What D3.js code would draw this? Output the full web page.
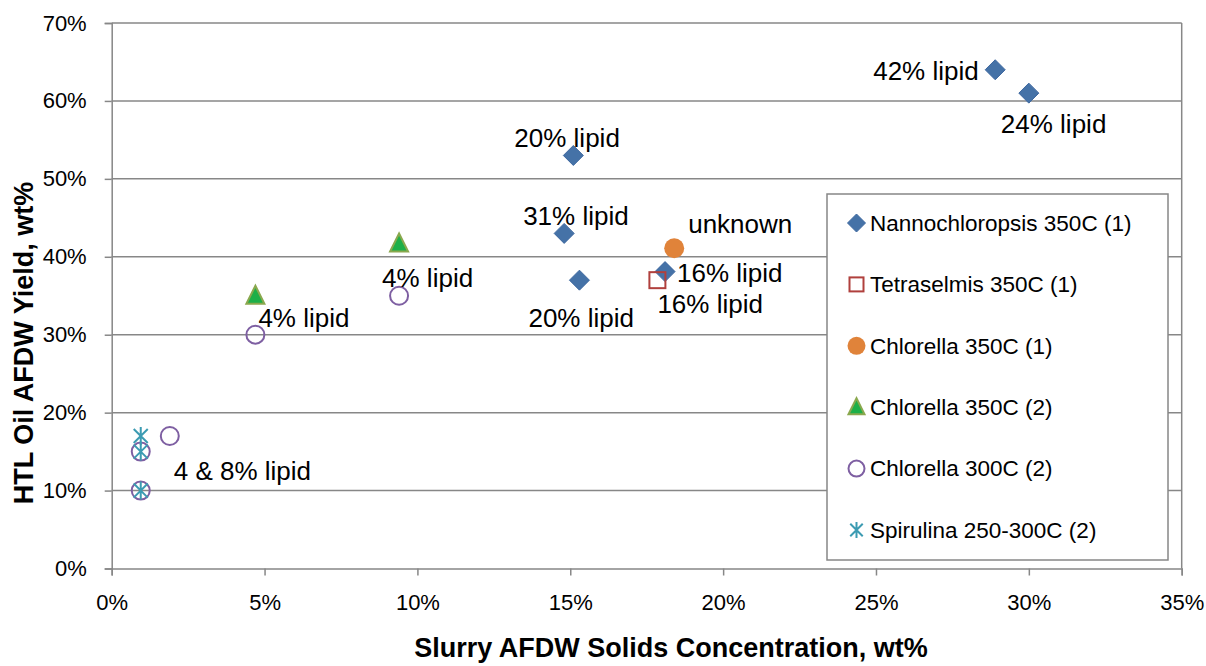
<!DOCTYPE html>
<html><head><meta charset="utf-8">
<script src="https://cdn.jsdelivr.net/npm/d3@7"></script>
<style>body{margin:0;background:#fff}svg{display:block}text{font-family:"Liberation Sans",Arial,sans-serif;fill:#000}</style>
</head><body><svg id="c" width="1206" height="666"></svg>
<script>
// ---- data ----
const seriesNames = ["Nannochloropsis 350C (1)","Tetraselmis 350C (1)","Chlorella 350C (1)","Chlorella 350C (2)","Chlorella 300C (2)","Spirulina 250-300C (2)"];
const nannoX = [14.8, 15.1, 15.3, 18.1, 28.9, 30.0];
const nannoY = [43, 53, 37, 38.1, 64, 61];
const tetraX = [17.85];
const tetraY = [37];
const chl350aX = [18.4];
const chl350aY = [41.1];
const chl350bX = [4.7, 9.4];
const chl350bY = [35, 41.7];
const chl300X = [4.7, 9.4, 1.9, 0.95, 0.95];
const chl300Y = [30, 35, 17, 15, 10];
const spiruX = [0.95, 0.95, 0.95];
const spiruY = [17, 15, 10];
const xTicks = [0,5,10,15,20,25,30,35];
const yTicks = [0,10,20,30,40,50,60,70];
const annotations = [
  {t:"20% lipid", x:15.1, y:53, dx:-59, dy:-18},
  {t:"31% lipid", x:14.8, y:43, dx:-41, dy:-18},
  {t:"20% lipid", x:15.3, y:37, dx:-51, dy:38},
  {t:"16% lipid", x:18.1, y:38.1, dx:12, dy:1},
  {t:"16% lipid", x:17.85, y:37, dx:0, dy:24},
  {t:"unknown", x:18.4, y:41.1, dx:14, dy:-24},
  {t:"42% lipid", x:28.9, y:64, dx:-122, dy:1},
  {t:"24% lipid", x:30.0, y:61, dx:-28, dy:31},
  {t:"4% lipid", x:4.7, y:35, dx:3, dy:22},
  {t:"4% lipid", x:9.4, y:41.7, dx:-17, dy:34},
  {t:"4 & 8% lipid", x:0.95, y:15, dx:33, dy:19}
];

const svg = d3.select("#c");
const L = 111.7, R = 1181.7, T = 23, B = 568.5;
const x = d3.scaleLinear().domain([0,35]).range([L,R]);
const y = d3.scaleLinear().domain([0,70]).range([B,T]);
const grid = "#878787";

// gridlines
svg.append("g").selectAll("line").data(yTicks.slice(1)).join("line")
  .attr("x1",L).attr("x2",R).attr("y1",d=>y(d)).attr("y2",d=>y(d))
  .attr("stroke",grid).attr("stroke-width",1.5);
// border right
svg.append("line").attr("x1",R).attr("x2",R).attr("y1",T).attr("y2",B).attr("stroke",grid).attr("stroke-width",1.5);

const pct = d=>d+"%";
const yAxis = svg.append("g").attr("transform",`translate(${L},0)`)
  .call(d3.axisLeft(y).tickValues(yTicks).tickFormat(pct).tickSize(7).tickPadding(18));
const xAxis = svg.append("g").attr("transform",`translate(0,${B})`)
  .call(d3.axisBottom(x).tickValues(xTicks).tickFormat(pct).tickSize(7).tickPadding(14));
[yAxis,xAxis].forEach(a=>{
  a.select(".domain").attr("stroke",grid).attr("stroke-width",1.5);
  a.selectAll(".tick line").attr("stroke",grid).attr("stroke-width",1.5);
  a.selectAll(".tick text").attr("font-size",22).attr("font-family","Liberation Sans, Arial, sans-serif").attr("fill","#000");
});
xAxis.selectAll(".tick text").attr("dy","0.95em");

// axis titles
svg.append("text").attr("x",671).attr("y",657).attr("text-anchor","middle")
  .attr("font-size",27).attr("font-weight","bold").text("Slurry AFDW Solids Concentration, wt%");
svg.append("text").attr("transform","translate(33,343) rotate(-90)").attr("text-anchor","middle")
  .attr("font-size",27).attr("font-weight","bold").text("HTL Oil AFDW Yield, wt%");

// marker drawers
const styles = [
  {shape:"diamond", fill:"#4572A7", stroke:"#3E68A0"},
  {shape:"square", fill:"none", stroke:"#B0403D"},
  {shape:"circle", fill:"#E0833A", stroke:"#E0833A"},
  {shape:"triangle", fill:"#1DAF48", stroke:"#8AA84E"},
  {shape:"ocircle", fill:"none", stroke:"#7E5FA2"},
  {shape:"star", fill:"none", stroke:"#3C9BB2"}
];
function marker(g, st, cx, cy, s){
  const h = s/2;
  if(st.shape==="diamond"){
    g.append("path").attr("d",`M${cx},${cy-h-1}L${cx+h+1},${cy}L${cx},${cy+h+1}L${cx-h-1},${cy}Z`).attr("fill",st.fill).attr("stroke",st.stroke).attr("stroke-width",1);
  } else if(st.shape==="square"){
    g.append("rect").attr("x",cx-h+1).attr("y",cy-h+1).attr("width",s-2).attr("height",s-2).attr("fill","none").attr("stroke",st.stroke).attr("stroke-width",2);
  } else if(st.shape==="circle"){
    g.append("circle").attr("cx",cx).attr("cy",cy).attr("r",h+1).attr("fill",st.fill);
  } else if(st.shape==="triangle"){
    g.append("path").attr("d",`M${cx},${cy-h-1}L${cx+h},${cy+h-1}L${cx-h},${cy+h-1}Z`).attr("fill",st.fill).attr("stroke",st.stroke).attr("stroke-width",2).attr("stroke-linejoin","miter");
  } else if(st.shape==="ocircle"){
    g.append("circle").attr("cx",cx).attr("cy",cy).attr("r",h).attr("fill","none").attr("stroke",st.stroke).attr("stroke-width",2);
  } else if(st.shape==="star"){
    const a = h*0.78;
    g.append("path").attr("d",`M${cx-a},${cy-a}L${cx+a},${cy+a}M${cx-a},${cy+a}L${cx+a},${cy-a}M${cx},${cy-h}L${cx},${cy+h}`)
      .attr("stroke",st.stroke).attr("stroke-width",2).attr("fill","none");
  }
}

const allSeries = [[nannoX,nannoY],[tetraX,tetraY],[chl350aX,chl350aY],[chl350bX,chl350bY],[chl300X,chl300Y],[spiruX,spiruY]];
const pts = svg.append("g");
allSeries.forEach((s,i)=>{
  s[0].forEach((xv,j)=>marker(pts, styles[i], x(xv), y(s[1][j]), 18));
});

// annotations
svg.append("g").selectAll("text").data(annotations).join("text")
  .attr("x",d=>x(d.x)+d.dx).attr("y",d=>y(d.y)+d.dy).attr("dy","0.35em")
  .attr("font-size",26).text(d=>d.t);

// legend
const lg = svg.append("g");
lg.append("rect").attr("x",827).attr("y",194).attr("width",341).attr("height",366)
  .attr("fill","#fff").attr("stroke",grid).attr("stroke-width",1.5);
seriesNames.forEach((n,i)=>{
  const cy = 223 + i*61.4;
  marker(lg, styles[i], 856.5, cy, 16);
  lg.append("text").attr("x",870).attr("y",cy).attr("dy","0.35em").attr("font-size",22.5).text(n);
});
</script></body></html>
